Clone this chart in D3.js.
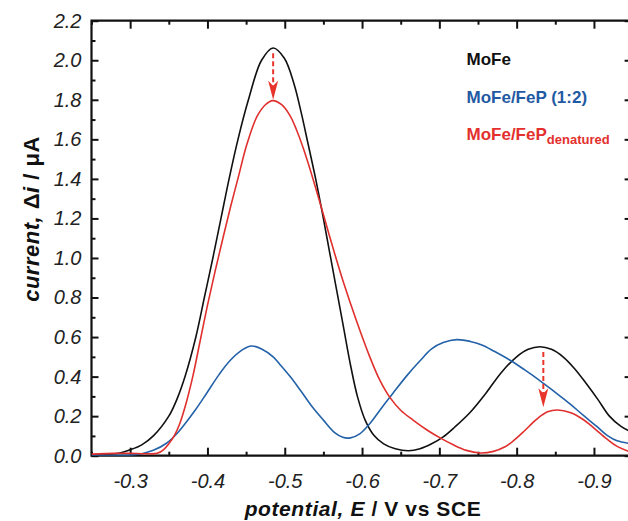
<!DOCTYPE html>
<html>
<head>
<meta charset="utf-8">
<script src="https://cdn.jsdelivr.net/npm/d3@7"></script>
<style>
  html, body { margin: 0; padding: 0; background: #fff; }
  svg { display: block; font-family: "Liberation Sans", Arial, sans-serif; }
</style>
</head>
<body>
<svg id="chart" width="628" height="521"></svg>
<script>
// Differential pulse voltammograms: potential (V vs SCE) and current (µA)
const mofePotential = [-0.25, -0.27, -0.285, -0.30, -0.315, -0.33, -0.35, -0.361, -0.371, -0.385, -0.396, -0.407, -0.4175, -0.428, -0.4395, -0.453, -0.47, -0.485, -0.4995, -0.512, -0.521, -0.53, -0.54, -0.549, -0.558, -0.567, -0.576, -0.585, -0.594, -0.604, -0.615, -0.628, -0.643, -0.66, -0.675, -0.69, -0.705, -0.72, -0.74, -0.76, -0.78, -0.80, -0.815, -0.83, -0.845, -0.86, -0.875, -0.89, -0.905, -0.92, -0.935, -0.95];
const mofeCurrent   = [0.004, 0.006, 0.012, 0.03, 0.055, 0.10, 0.20, 0.29, 0.40, 0.60, 0.80, 1.00, 1.20, 1.40, 1.60, 1.80, 2.00, 2.062, 2.01, 1.88, 1.74, 1.58, 1.40, 1.22, 1.03, 0.84, 0.65, 0.46, 0.30, 0.18, 0.105, 0.06, 0.035, 0.025, 0.035, 0.06, 0.095, 0.145, 0.22, 0.315, 0.42, 0.50, 0.538, 0.551, 0.538, 0.50, 0.44, 0.365, 0.285, 0.20, 0.148, 0.118];

const fepPotential = [-0.25, -0.28, -0.30, -0.315, -0.33, -0.347, -0.36, -0.369, -0.385, -0.399, -0.415, -0.429, -0.445, -0.457, -0.47, -0.485, -0.494, -0.507, -0.52, -0.535, -0.55, -0.565, -0.575, -0.585, -0.597, -0.61, -0.625, -0.64, -0.658, -0.675, -0.69, -0.705, -0.7225, -0.74, -0.755, -0.771, -0.791, -0.81, -0.83, -0.85, -0.869, -0.886, -0.904, -0.918, -0.93, -0.95];
const fepCurrent   = [0.002, 0.002, 0.003, 0.01, 0.027, 0.063, 0.11, 0.152, 0.235, 0.316, 0.41, 0.48, 0.535, 0.555, 0.54, 0.50, 0.46, 0.40, 0.332, 0.25, 0.18, 0.115, 0.093, 0.09, 0.11, 0.162, 0.24, 0.316, 0.405, 0.48, 0.54, 0.572, 0.587, 0.578, 0.56, 0.528, 0.484, 0.435, 0.38, 0.32, 0.262, 0.205, 0.147, 0.10, 0.075, 0.06];

const denatPotential = [-0.25, -0.28, -0.30, -0.32, -0.335, -0.343, -0.35, -0.357, -0.364, -0.372, -0.381, -0.39, -0.40, -0.41, -0.42, -0.43, -0.44, -0.451, -0.464, -0.475, -0.4844, -0.496, -0.5068, -0.515, -0.524, -0.535, -0.547, -0.558, -0.567, -0.5757, -0.593, -0.61, -0.622, -0.636, -0.65, -0.666, -0.684, -0.701, -0.718, -0.735, -0.7526, -0.77, -0.785, -0.7957, -0.81, -0.826, -0.84, -0.853, -0.87, -0.886, -0.90, -0.9165, -0.93, -0.95];
const denatCurrent   = [0.008, 0.012, 0.012, 0.01, 0.012, 0.03, 0.06, 0.10, 0.16, 0.26, 0.40, 0.57, 0.76, 0.935, 1.10, 1.26, 1.41, 1.575, 1.715, 1.775, 1.796, 1.775, 1.72, 1.65, 1.555, 1.42, 1.26, 1.11, 0.99, 0.88, 0.68, 0.50, 0.39, 0.295, 0.23, 0.18, 0.13, 0.09, 0.055, 0.027, 0.014, 0.022, 0.045, 0.075, 0.125, 0.185, 0.222, 0.231, 0.217, 0.183, 0.14, 0.085, 0.047, 0.015];

const xMajorTicks = [-0.3, -0.4, -0.5, -0.6, -0.7, -0.8, -0.9];
const xMinorTicks = [-0.25, -0.35, -0.45, -0.55, -0.65, -0.75, -0.85];
const yMajorTicks = [0.0, 0.2, 0.4, 0.6, 0.8, 1.0, 1.2, 1.4, 1.6, 1.8, 2.0, 2.2];
const yMinorTicks = [0.1, 0.3, 0.5, 0.7, 0.9, 1.1, 1.3, 1.5, 1.7, 1.9, 2.1];

const seriesNames  = ["MoFe", "MoFe/FeP (1:2)", "MoFe/FeP"];
const seriesColors = ["#111111", "#2362a8", "#e0302e"];

// Arrows showing the drop in peak current: [potential, from, to]
const arrowPotentials = [-0.485, -0.8345];
const arrowFrom       = [2.035, 0.525];
const arrowTo         = [1.80, 0.245];

const svg = d3.select("#chart");
const plotLeft = 91.5, plotRight = 632.6, plotTop = 20.7, plotBottom = 455.7;

const x = d3.scaleLinear().domain([-0.25, -0.95]).range([plotLeft, plotRight]);
const y = d3.scaleLinear().domain([0, 2.2]).range([plotBottom, plotTop]);

const tickFont = "20px";

// minor ticks
const minorStyle = g => { g.select(".domain").remove(); g.selectAll("text").remove(); g.selectAll("line").attr("stroke", "#111").attr("stroke-width", 2); };
svg.append("g").attr("transform", `translate(0,${plotBottom})`)
  .call(d3.axisBottom(x).tickValues(xMinorTicks).tickSizeInner(-4).tickSizeOuter(0)).call(minorStyle);
svg.append("g").attr("transform", `translate(0,${plotTop})`)
  .call(d3.axisTop(x).tickValues(xMinorTicks).tickSizeInner(-4).tickSizeOuter(0)).call(minorStyle);
svg.append("g").attr("transform", `translate(${plotLeft},0)`)
  .call(d3.axisLeft(y).tickValues(yMinorTicks).tickSizeInner(-4).tickSizeOuter(0)).call(minorStyle);
svg.append("g").attr("transform", `translate(${plotRight},0)`)
  .call(d3.axisRight(y).tickValues(yMinorTicks).tickSizeInner(-4).tickSizeOuter(0)).call(minorStyle);

// major ticks with labels
const majorStyle = g => {
  g.select(".domain").remove();
  g.selectAll("line").attr("stroke", "#111").attr("stroke-width", 2);
  g.selectAll("text").attr("fill", "#222").attr("font-size", tickFont).attr("font-style", "italic");
};
svg.append("g").attr("transform", `translate(0,${plotBottom})`)
  .call(d3.axisBottom(x).tickValues(xMajorTicks).tickSizeInner(-8).tickSizeOuter(0).tickPadding(18).tickFormat(d => d.toFixed(1)))
  .call(majorStyle);
svg.append("g").attr("transform", `translate(0,${plotTop})`)
  .call(d3.axisTop(x).tickValues(xMajorTicks).tickSizeInner(-8).tickSizeOuter(0).tickFormat(""))
  .call(majorStyle);
svg.append("g").attr("transform", `translate(${plotLeft},0)`)
  .call(d3.axisLeft(y).tickValues(yMajorTicks).tickSizeInner(-7).tickSizeOuter(0).tickPadding(10).tickFormat(d => d.toFixed(1)))
  .call(majorStyle);
svg.append("g").attr("transform", `translate(${plotRight},0)`)
  .call(d3.axisRight(y).tickValues(yMajorTicks).tickSizeInner(-8).tickSizeOuter(0).tickFormat(""))
  .call(majorStyle);

// frame
svg.append("path")
  .attr("d", `M${plotRight},${plotTop}H${plotLeft}V${plotBottom}H${plotRight}`)
  .attr("fill", "none").attr("stroke", "#111").attr("stroke-width", 2.2);

// curves
const line = d3.line().x(d => x(d[0])).y(d => y(d[1])).curve(d3.curveCatmullRom.alpha(0.5));
const seriesData = [
  d3.zip(mofePotential, mofeCurrent),
  d3.zip(fepPotential, fepCurrent),
  d3.zip(denatPotential, denatCurrent)
];
svg.append("clipPath").attr("id", "plotClip").append("rect")
  .attr("x", plotLeft).attr("y", plotTop).attr("width", plotRight - plotLeft).attr("height", plotBottom - plotTop);
svg.append("g").attr("clip-path", "url(#plotClip)")
  .selectAll("path").data(seriesData).join("path")
  .attr("d", line)
  .attr("fill", "none")
  .attr("stroke", (d, i) => seriesColors[i])
  .attr("stroke-width", 1.6);

// arrows
const arrowColor = "#e8352c";
const arrows = svg.append("g");
arrowPotentials.forEach((p, i) => {
  const ax = x(p), y0 = y(arrowFrom[i]), y1 = y(arrowTo[i]);
  arrows.append("line")
    .attr("x1", ax).attr("x2", ax).attr("y1", y0).attr("y2", y1 - 14)
    .attr("stroke", arrowColor).attr("stroke-width", 2).attr("stroke-dasharray", "5,3");
  arrows.append("path")
    .attr("d", `M${ax},${y1} L${ax - 5},${y1 - 19} L${ax},${y1 - 14} L${ax + 5},${y1 - 19} Z`)
    .attr("fill", arrowColor);
});

// legend
const legend = svg.append("g").attr("font-weight", "bold").attr("font-size", "17px");
legend.append("text").attr("x", 466.5).attr("y", 65).attr("fill", seriesColors[0]).text(seriesNames[0]);
legend.append("text").attr("x", 466.5).attr("y", 102.5).attr("fill", "#1f5aa3").text(seriesNames[1]);
const lt = legend.append("text").attr("x", 466.5).attr("y", 140).attr("fill", "#e3302e");
lt.append("tspan").text(seriesNames[2]);
lt.append("tspan").attr("dy", 3.5).attr("font-size", "13px").text("denatured");

// axis titles
const xt = svg.append("text").attr("x", 363).attr("y", 515.5).attr("text-anchor", "middle")
  .attr("font-weight", "bold").attr("font-size", "21px").attr("letter-spacing", "0.6px").attr("fill", "#111");
xt.append("tspan").attr("font-style", "italic").text("potential, E");
xt.append("tspan").text(" / V vs SCE");

const yt = svg.append("text").attr("transform", "translate(39,219) rotate(-90)").attr("text-anchor", "middle")
  .attr("font-weight", "bold").attr("font-size", "22px").attr("letter-spacing", "0.5px").attr("fill", "#111");
yt.append("tspan").attr("font-style", "italic").text("current, ");
yt.append("tspan").text("Δ");
yt.append("tspan").attr("font-style", "italic").text("i");
yt.append("tspan").text(" / μA");
</script>
</body>
</html>
